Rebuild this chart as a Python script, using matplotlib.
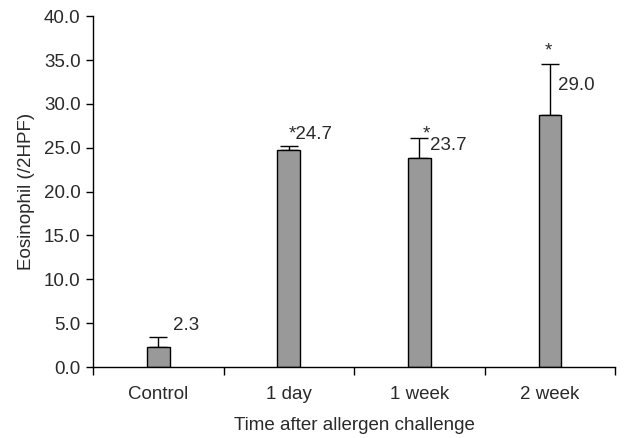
import numpy as np
import matplotlib.pyplot as plt

# data
categories = ["Control", "1 day", "1 week", "2 week"]
means = [2.3, 24.7, 23.8, 28.7]
errors = [1.15, 0.5, 2.35, 5.85]
value_labels = ["2.3", "24.7", "23.7", "29.0"]
significant = [False, True, True, True]

plt.rcParams['font.family'] = ['Liberation Sans', 'DejaVu Sans']
text_color = '#2a2a2a'
fs = 13.5

fig = plt.figure(figsize=(6.24, 4.38), dpi=100)
ax = fig.add_axes([0.149, 0.162, 0.837, 0.801])

x = np.arange(len(categories))
ax.bar(x, means, width=0.175, color='#999999', edgecolor='black', linewidth=1.0, zorder=2)
ax.errorbar(x, means, yerr=[np.zeros(len(errors)), errors], fmt='none',
            ecolor='black', elinewidth=1.0, capsize=6.5, capthick=1.0, zorder=1)

# value labels and significance stars
for i, (m, e, lab, sig) in enumerate(zip(means, errors, value_labels, significant)):
    top = m + e
    if i == 0:
        ax.text(i + 0.11, top + 1.3, lab, fontsize=fs, color=text_color, ha='left', va='center')
    elif i == 1:
        ax.text(i + 0.0, top + 1.3, '*' + lab, fontsize=fs, color=text_color, ha='left', va='center')
    elif i == 2:
        ax.text(i + 0.05, top + 0.4, '*', fontsize=fs, color=text_color, ha='center', va='center')
        ax.text(i + 0.08, top - 0.9, lab, fontsize=fs, color=text_color, ha='left', va='center')
    else:
        ax.text(i - 0.01, top + 1.5, '*', fontsize=fs, color=text_color, ha='center', va='center')
        ax.text(i + 0.06, top - 2.4, lab, fontsize=fs, color=text_color, ha='left', va='center')

ax.set_xlim(-0.5, 3.5)
ax.set_ylim(0, 40)
ax.set_yticks(np.arange(0, 40.1, 5))
ax.set_yticklabels([f"{v:.1f}" for v in np.arange(0, 40.1, 5)])
ax.set_xticks(x)
ax.set_xticklabels(categories)
ax.set_xticks(np.arange(-0.5, 3.6, 1), minor=True)
ax.tick_params(axis='x', which='major', length=0, pad=14, labelsize=fs, labelcolor=text_color)
ax.tick_params(axis='x', which='minor', length=6, width=1.0, direction='out')
ax.tick_params(axis='y', length=5, width=1.0, direction='out', labelsize=fs, labelcolor=text_color, pad=4)

for s in ['top', 'right']:
    ax.spines[s].set_visible(False)
for s in ['left', 'bottom']:
    ax.spines[s].set_linewidth(1.0)

ax.set_ylabel("Eosinophil (/2HPF)", fontsize=fs, color=text_color, labelpad=6)
ax.set_xlabel("Time after allergen challenge", fontsize=fs, color=text_color, labelpad=10)

fig.savefig("out.png", dpi=100)
